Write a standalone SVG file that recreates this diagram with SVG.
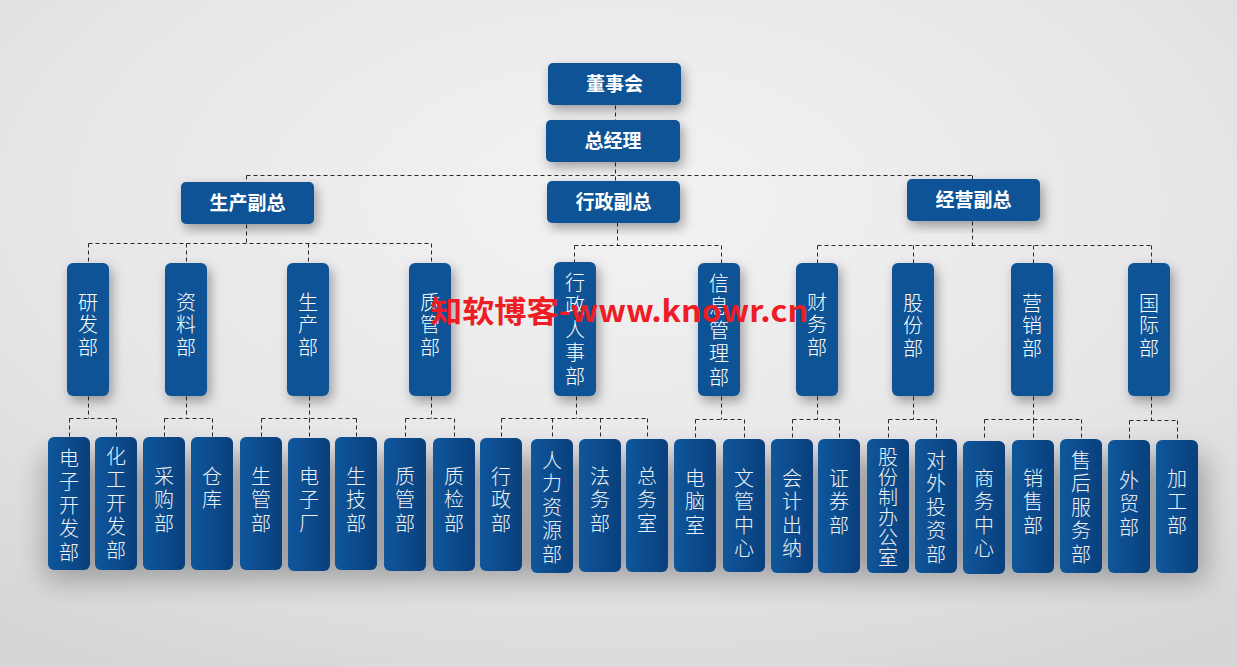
<svg xmlns="http://www.w3.org/2000/svg" width="1237" height="667" viewBox="0 0 1237 667">
<defs>
<radialGradient id="bg" cx="0.5" cy="0.3" r="0.8">
<stop offset="0" stop-color="#f3f3f4"/>
<stop offset="0.6" stop-color="#e6e6e8"/>
<stop offset="1" stop-color="#d6d6d8"/>
</radialGradient>
<linearGradient id="g4" x1="0" y1="0" x2="1" y2="0">
<stop offset="0" stop-color="#0f579c"/>
<stop offset="1" stop-color="#093f7c"/>
</linearGradient>
<filter id="sh" x="-60%" y="-30%" width="220%" height="160%">
<feDropShadow dx="3" dy="5" stdDeviation="6" flood-color="#000" flood-opacity="0.35"/>
</filter>
<filter id="blur" x="-20%" y="-50%" width="140%" height="200%">
<feGaussianBlur stdDeviation="14"/>
</filter>
<style>
.top{fill:#0c5296}
.l3{fill:#0c5295}
.l4{fill:url(#g4)}
.tt{font-family:"Noto Sans CJK SC","Liberation Sans",sans-serif;font-weight:bold;font-size:19px;fill:#fff;text-anchor:middle}
.v{font-family:"Noto Sans CJK SC","Liberation Sans",sans-serif;font-weight:300;font-size:20px;writing-mode:vertical-rl;text-anchor:start;letter-spacing:3.5px}
.t3{fill:#fff}
.t4{fill:#eef2f7}
.s3{letter-spacing:2.5px}
.s0{letter-spacing:0}
.cn{fill:none;stroke:#2a2a2a;stroke-width:1;stroke-dasharray:4 3}
.wm{font-family:"Noto Sans CJK SC","Liberation Sans",sans-serif;font-weight:bold;font-size:30px;fill:#ee1c25}
</style>
</defs>
<rect width="1237" height="667" fill="url(#bg)"/>
<rect x="45" y="455" width="1160" height="125" fill="#000" opacity="0.28" filter="url(#blur)"/>

<g id="connectors" class="cn" transform="translate(0.5 0.5)">
<path d="M615 105V120M615 162V181M246 175H972M246 175V182M972 175V179"/>
<path d="M246 224V243M88 243H431M88 243V263M186 243V263M308 243V263M431 243V263"/>
<path d="M617 222V245M574 245H721M574 245V262M721 245V263"/>
<path d="M972 221V245M817 245H1151M817 245V263M913 245V263M1033 245V263M1151 245V263"/>
<path d="M88 396V418M69 418H116M69 418V438M116 418V438"/>
<path d="M186 396V418M164 418H212M164 418V438M212 418V438"/>
<path d="M309 396V418M261 418H356M261 418V438M309 418V438M356 418V438"/>
<path d="M431 396V418M405 418H454M405 418V438M454 418V438"/>
<path d="M576 396V418M501 418H647M501 418V438M552 418V438M600 418V438M647 418V438"/>
<path d="M721 396V419M695 419H744M695 419V438M744 419V438"/>
<path d="M817 396V419M792 419H839M792 419V438M839 419V438"/>
<path d="M913 396V419M888 419H936M888 419V438M936 419V438"/>
<path d="M1033 396V419M984 419H1081M984 419V438M1033 419V438M1081 419V438"/>
<path d="M1151 396V420M1129 420H1177M1129 420V438M1177 420V438"/>
</g>

<g id="n-dongshihui"><rect class="top" x="548" y="63" width="133" height="42" rx="5" filter="url(#sh)"/><text class="tt" x="614.5" y="91">董事会</text></g>
<g id="n-zongjingli"><rect class="top" x="546" y="120" width="134" height="42" rx="5" filter="url(#sh)"/><text class="tt" x="613" y="148">总经理</text></g>
<g id="n-shengchanfuzong"><rect class="top" x="181" y="182" width="133" height="42" rx="5" filter="url(#sh)"/><text class="tt" x="247.5" y="210">生产副总</text></g>
<g id="n-xingzhengfuzong"><rect class="top" x="547" y="181" width="133" height="42" rx="5" filter="url(#sh)"/><text class="tt" x="613.5" y="209">行政副总</text></g>
<g id="n-jingyingfuzong"><rect class="top" x="907" y="179" width="133" height="42" rx="5" filter="url(#sh)"/><text class="tt" x="973.5" y="207">经营副总</text></g>

<g id="n-yanfa"><rect class="l3" x="67" y="263" width="42" height="133" rx="6" filter="url(#sh)"/><text class="v t3 s3" x="88" y="292">研发部</text></g>
<g id="n-ziliao"><rect class="l3" x="165" y="263" width="42" height="133" rx="6" filter="url(#sh)"/><text class="v t3 s3" x="186" y="292">资料部</text></g>
<g id="n-shengchan"><rect class="l3" x="287" y="263" width="42" height="133" rx="6" filter="url(#sh)"/><text class="v t3 s3" x="308" y="292">生产部</text></g>
<g id="n-zhiguan"><rect class="l3" x="409" y="263" width="42" height="133" rx="6" filter="url(#sh)"/><text class="v t3 s3" x="430" y="292">质管部</text></g>
<g id="n-xingzhengrenshi"><rect class="l3" x="554" y="262" width="42" height="134" rx="6" filter="url(#sh)"/><text class="v t3" x="575" y="272">行政人事部</text></g>
<g id="n-xinxiguanli"><rect class="l3" x="698" y="263" width="42" height="133" rx="6" filter="url(#sh)"/><text class="v t3" x="719" y="273">信息管理部</text></g>
<g id="n-caiwu"><rect class="l3" x="796" y="263" width="42" height="133" rx="6" filter="url(#sh)"/><text class="v t3 s3" x="817" y="292">财务部</text></g>
<g id="n-gufen"><rect class="l3" x="892" y="263" width="42" height="133" rx="6" filter="url(#sh)"/><text class="v t3 s3" x="913" y="293">股份部</text></g>
<g id="n-yingxiao"><rect class="l3" x="1011" y="263" width="42" height="133" rx="6" filter="url(#sh)"/><text class="v t3 s3" x="1032" y="293">营销部</text></g>
<g id="n-guoji"><rect class="l3" x="1128" y="263" width="42" height="133" rx="6" filter="url(#sh)"/><text class="v t3 s3" x="1149" y="293">国际部</text></g>

<g id="n-dianzikaifa"><rect class="l4" x="48" y="437" width="42" height="133" rx="6"/><text class="v t4" x="69" y="448">电子开发部</text></g>
<g id="n-huagongkaifa"><rect class="l4" x="95" y="437" width="42" height="133" rx="6"/><text class="v t4" x="116" y="446">化工开发部</text></g>
<g id="n-caigou"><rect class="l4" x="143" y="437" width="42" height="133" rx="6"/><text class="v t4" x="164" y="466">采购部</text></g>
<g id="n-cangku"><rect class="l4" x="191" y="437" width="42" height="133" rx="6"/><text class="v t4" x="212" y="466">仓库</text></g>
<g id="n-shengguan"><rect class="l4" x="240" y="437" width="42" height="133" rx="6"/><text class="v t4" x="261" y="466">生管部</text></g>
<g id="n-dianzichang"><rect class="l4" x="288" y="438" width="42" height="133" rx="6"/><text class="v t4" x="309" y="466">电子厂</text></g>
<g id="n-shengji"><rect class="l4" x="335" y="437" width="42" height="133" rx="6"/><text class="v t4" x="356" y="466">生技部</text></g>
<g id="n-zhiguan2"><rect class="l4" x="384" y="438" width="42" height="133" rx="6"/><text class="v t4" x="405" y="466">质管部</text></g>
<g id="n-zhijian"><rect class="l4" x="433" y="438" width="42" height="133" rx="6"/><text class="v t4" x="454" y="466">质检部</text></g>
<g id="n-xingzheng"><rect class="l4" x="480" y="438" width="42" height="133" rx="6"/><text class="v t4" x="501" y="466">行政部</text></g>
<g id="n-renliziyuan"><rect class="l4" x="531" y="439" width="42" height="134" rx="6"/><text class="v t4" x="552" y="450">人力资源部</text></g>
<g id="n-fawu"><rect class="l4" x="579" y="439" width="42" height="133" rx="6"/><text class="v t4" x="600" y="466">法务部</text></g>
<g id="n-zongwu"><rect class="l4" x="626" y="439" width="42" height="133" rx="6"/><text class="v t4" x="647" y="466">总务室</text></g>
<g id="n-diannao"><rect class="l4" x="674" y="439" width="42" height="133" rx="6"/><text class="v t4" x="695" y="468">电脑室</text></g>
<g id="n-wenguan"><rect class="l4" x="723" y="439" width="42" height="133" rx="6"/><text class="v t4" x="744" y="468">文管中心</text></g>
<g id="n-kuaiji"><rect class="l4" x="771" y="439" width="42" height="134" rx="6"/><text class="v t4" x="792" y="468">会计出纳</text></g>
<g id="n-zhengquan"><rect class="l4" x="818" y="439" width="42" height="134" rx="6"/><text class="v t4" x="839" y="468">证券部</text></g>
<g id="n-gufenzhi"><rect class="l4" x="867" y="439" width="42" height="134" rx="6"/><text class="v t4 s0" x="888" y="447">股份制办公室</text></g>
<g id="n-duiwaitouzi"><rect class="l4" x="915" y="439" width="42" height="134" rx="6"/><text class="v t4" x="936" y="450">对外投资部</text></g>
<g id="n-shangwu"><rect class="l4" x="963" y="441" width="42" height="133" rx="6"/><text class="v t4" x="984" y="468">商务中心</text></g>
<g id="n-xiaoshou"><rect class="l4" x="1012" y="440" width="42" height="133" rx="6"/><text class="v t4" x="1033" y="468">销售部</text></g>
<g id="n-shouhou"><rect class="l4" x="1060" y="439" width="42" height="134" rx="6"/><text class="v t4" x="1081" y="450">售后服务部</text></g>
<g id="n-waimao"><rect class="l4" x="1108" y="440" width="42" height="133" rx="6"/><text class="v t4" x="1129" y="470">外贸部</text></g>
<g id="n-jiagong"><rect class="l4" x="1156" y="440" width="42" height="133" rx="6"/><text class="v t4" x="1177" y="468">加工部</text></g>

<text class="wm" x="430" y="322" textLength="378" lengthAdjust="spacingAndGlyphs">知软博客-www.knowr.cn</text>
</svg>
